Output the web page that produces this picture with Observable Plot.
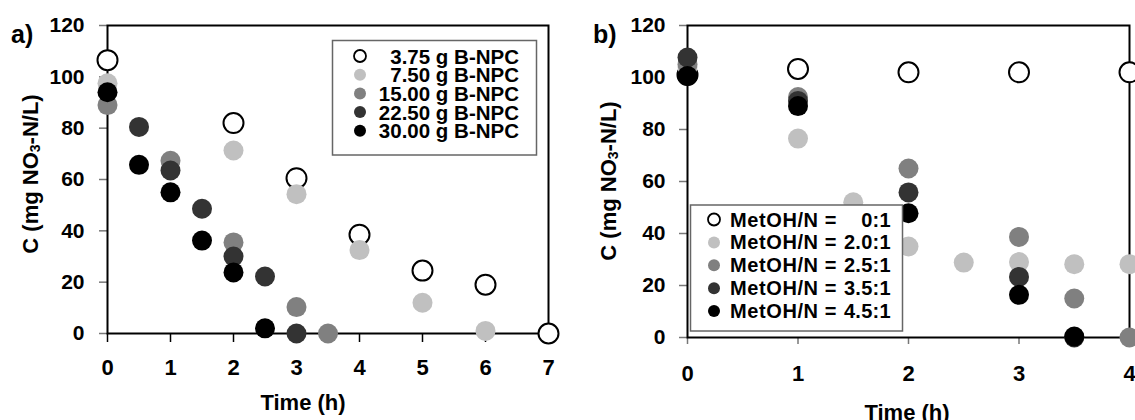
<!DOCTYPE html>
<html><head><meta charset="utf-8">
<script src="https://cdn.jsdelivr.net/npm/d3@7"></script>
<script src="https://cdn.jsdelivr.net/npm/@observablehq/plot@0.6"></script>
<style>
body{margin:0;background:#fff;}
#wrap{display:flex;width:1135px;height:420px;overflow:hidden;}
svg{overflow:visible;}
svg text{font-family:"Liberation Sans",Arial,sans-serif;font-weight:bold;}
</style></head><body><div id="wrap"></div>
<script>
// ---------- Panel a data ----------
const seriesA = ["3.75 g B-NPC", "7.50 g B-NPC", "15.00 g B-NPC", "22.50 g B-NPC", "30.00 g B-NPC"];
const colorsA = ["#ffffff", "#c0c0c0", "#808080", "#333333", "#000000"];
const timeA1 = [0, 2, 3, 4, 5, 6, 7];
const concA1 = [106.5, 82, 60.5, 38.5, 24.5, 19, 0];
const timeA2 = [0, 2, 3, 4, 5, 6];
const concA2 = [97.5, 71.3, 54.3, 32.5, 12, 1];
const timeA3 = [0, 1, 2, 3, 3.5];
const concA3 = [89, 67.3, 35.5, 10.3, 0];
const timeA4 = [0.5, 1, 1.5, 2, 2.5, 3];
const concA4 = [80.5, 63.5, 48.6, 30, 22.2, 0];
const timeA5 = [0, 0.5, 1, 1.5, 2, 2.5];
const concA5 = [94, 65.7, 55, 36.2, 23.8, 2];
const xTicksA = [0, 1, 2, 3, 4, 5, 6, 7];

// ---------- Panel b data ----------
const ratiosB = ["0:1", "2.0:1", "2.5:1", "3.5:1", "4.5:1"];
const seriesB = ratiosB.map(r => "MetOH/N = " + r);
const colorsB = ["#ffffff", "#c0c0c0", "#808080", "#333333", "#000000"];
const timeB1 = [0, 1, 2, 3, 4];
const concB1 = [101, 103.3, 102, 102, 102];
const timeB2 = [0, 1, 1.5, 2, 2.5, 3, 3.5, 4];
const concB2 = [104, 76.5, 52, 35, 28.8, 29, 28.2, 28.2];
const timeB3 = [0, 1, 2, 3, 3.5, 4];
const concB3 = [105, 92.5, 65, 38.7, 15, 0];
const timeB4 = [0, 1, 2, 3, 3.5];
const concB4 = [107.7, 91, 55.8, 23.3, 0];
const timeB5 = [0, 1, 2, 3, 3.5];
const concB5 = [100.6, 89, 47.8, 16.4, 0.4];
const xTicksB = [0, 1, 2, 3, 4];
const yTicks = [0, 20, 40, 60, 80, 100, 120];

function rows(names, times, concs) {
  const out = [];
  names.forEach((s, i) => times[i].forEach((t, j) => out.push({s, i, t, c: concs[i][j]})));
  return out;
}
const dataA = rows(seriesA, [timeA1, timeA2, timeA3, timeA4, timeA5], [concA1, concA2, concA3, concA4, concA5]);
const dataB = rows(seriesB, [timeB1, timeB2, timeB3, timeB4, timeB5], [concB1, concB2, concB3, concB4, concB5]);

const FONT = '"Liberation Sans", Arial, sans-serif';

function panel({data, names, colors, width, ml, mr, mt, mb, xmax, xTicks, xTickStroke, xTickSize, xPad, yPad}) {
  return Plot.plot({
    width, height: 420,
    marginLeft: ml, marginRight: mr, marginTop: mt, marginBottom: mb,
    style: {fontFamily: FONT, fontWeight: "bold", background: "white", overflow: "visible"},
    x: {domain: [0, xmax]},
    y: {domain: [0, 120]},
    color: {domain: names, range: colors},
    marks: [
      Plot.axisY({ticks: yTicks, tickFormat: d3.format("d"), tickSize: 8, tickPadding: yPad, fontSize: 21, fontWeight: "bold", stroke: "#777", strokeWidth: 1.5, fill: "black", label: null}),
      Plot.axisX({ticks: xTicks, tickFormat: d3.format("d"), tickSize: xTickSize, tickPadding: xPad, fontSize: 22, fontWeight: "bold", stroke: xTickStroke, strokeWidth: 1.5, fill: "black", label: null}),
      Plot.frame({stroke: "black", strokeWidth: 2}),
      Plot.dot(data.filter(d => d.i === 0), {x: "t", y: "c", r: 10, fill: "white", stroke: "black", strokeWidth: 2}),
      Plot.dot(data.filter(d => d.i > 0), {x: "t", y: "c", r: 10, fill: "s", stroke: null})
    ]
  });
}

const wrap = document.getElementById("wrap");
const plotA = panel({data: dataA, names: seriesA, colors: colorsA, width: 565, ml: 107, mr: 17, mt: 25, mb: 87, xmax: 7, xTicks: xTicksA, xTickStroke: "black", xTickSize: 9, xPad: 17, yPad: 15});
const plotB = panel({data: dataB, names: seriesB, colors: colorsB, width: 570, ml: 122, mr: 6, mt: 25, mb: 83, xmax: 4, xTicks: xTicksB, xTickStroke: "#777", xTickSize: 7, xPad: 21, yPad: 14});
wrap.appendChild(plotA);
wrap.appendChild(plotB);

function yTitle(svg, x, y) {
  const t = d3.select(svg).append("text")
    .attr("transform", `translate(${x},${y}) rotate(-90)`)
    .attr("text-anchor", "middle").attr("dominant-baseline", "central")
    .attr("font-size", 22).attr("fill", "black");
  t.append("tspan").text("C (mg NO");
  t.append("tspan").text("3").attr("font-size", 14).attr("dy", 5);
  t.append("tspan").text("-N/L)").attr("dy", -5);
}
function xTitle(svg, x, y) {
  d3.select(svg).append("text").attr("x", x).attr("y", y)
    .attr("text-anchor", "middle").attr("dominant-baseline", "central")
    .attr("font-size", 22).attr("fill", "black").text("Time (h)");
}
function letter(svg, x, y, s) {
  d3.select(svg).append("text").attr("x", x).attr("y", y).attr("text-anchor", "start")
    .attr("dominant-baseline", "central").attr("font-size", 25).attr("fill", "black").text(s);
}

// Panel a annotations
yTitle(plotA, 30, 174);
xTitle(plotA, 303, 402);
letter(plotA, 11, 34, "a)");
{
  const g = d3.select(plotA).append("g");
  g.append("rect").attr("x", 332.5).attr("y", 40.5).attr("width", 204).attr("height", 114.5)
    .attr("fill", "white").attr("stroke", "#666").attr("stroke-width", 1.5);
  seriesA.forEach((s, i) => {
    const cy = 56 + 18.7 * i;
    g.append("circle").attr("cx", 360).attr("cy", cy).attr("r", 6)
      .attr("fill", colorsA[i]).attr("stroke", i === 0 ? "black" : "none").attr("stroke-width", 1.8);
    g.append("text").attr("x", 519).attr("y", cy).attr("text-anchor", "end")
      .attr("dominant-baseline", "central").attr("font-size", 20.5).attr("fill", "black").text(s);
  });
}

// Panel b annotations
yTitle(plotB, 43, 181);
xTitle(plotB, 342, 412);
letter(plotB, 28, 34, "b)");
{
  const g = d3.select(plotB).append("g");
  g.append("rect").attr("x", 125.5).attr("y", 205).attr("width", 212).attr("height", 126)
    .attr("fill", "white").attr("stroke", "#666").attr("stroke-width", 1.5);
  seriesB.forEach((s, i) => {
    const cy = 219.5 + 22.9 * i;
    g.append("circle").attr("cx", 149).attr("cy", cy).attr("r", 6)
      .attr("fill", colorsB[i]).attr("stroke", i === 0 ? "black" : "none").attr("stroke-width", 1.8);
    g.append("text").attr("x", 165).attr("y", cy).attr("text-anchor", "start").attr("dominant-baseline", "central")
      .attr("font-size", 20).attr("letter-spacing", 0.6).attr("fill", "black").text("MetOH/N =");
    g.append("text").attr("x", 326).attr("y", cy).attr("text-anchor", "end").attr("dominant-baseline", "central")
      .attr("font-size", 20).attr("letter-spacing", 0.3).attr("fill", "black").text(ratiosB[i]);
  });
}
</script></body></html>
